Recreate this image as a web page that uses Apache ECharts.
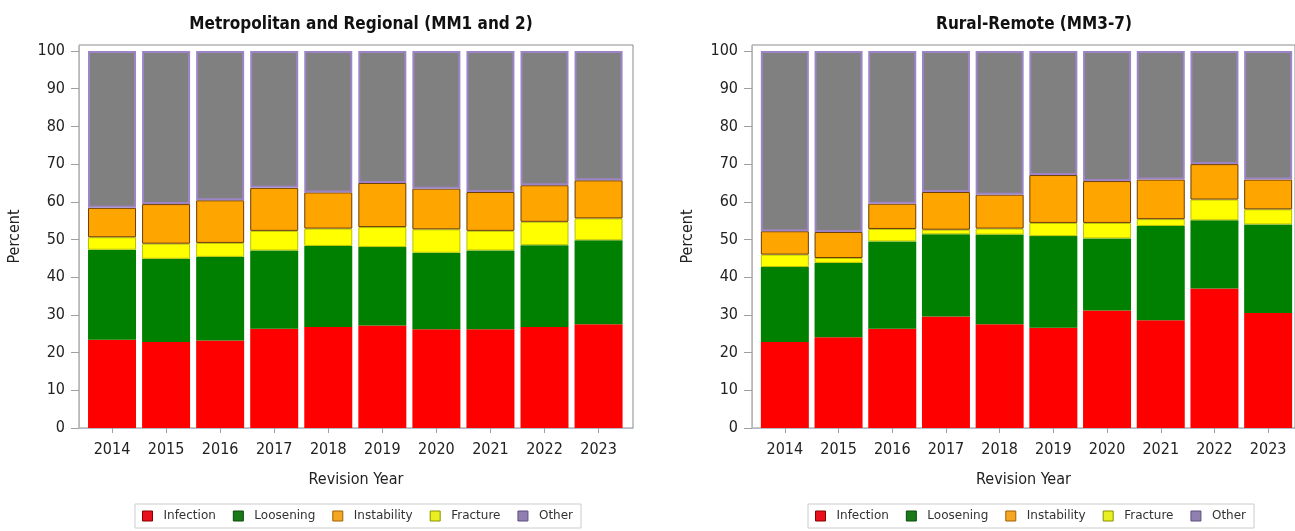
<!DOCTYPE html>
<html>
<head>
<meta charset="utf-8">
<script src="https://cdn.jsdelivr.net/npm/echarts@6/dist/echarts.min.js"></script>
<style>
html,body{margin:0;padding:0;background:#fff;}
#chart{width:1295px;height:531px;}
</style>
</head>
<body>
<div id="chart"></div>
<script>
// ---- data ----
const years = ['2014', '2015', '2016', '2017', '2018', '2019', '2020', '2021', '2022', '2023'];
const yTicks = [0, 10, 20, 30, 40, 50, 60, 70, 80, 90, 100];
const seriesNames = ['Infection', 'Loosening', 'Fracture', 'Instability', 'Other'];
const legendOrder = ['Infection', 'Loosening', 'Instability', 'Fracture', 'Other'];

const metroTitle = 'Metropolitan and Regional (MM1 and 2)';
const metroInfection   = [23.4, 22.8, 23.2, 26.3, 26.8, 27.2, 26.2, 26.2, 26.8, 27.5];
const metroLoosening   = [23.9, 22.1, 22.2, 20.8, 21.5, 20.8, 20.3, 20.9, 21.7, 22.3];
const metroFracture    = [3.3, 4.0, 3.7, 5.2, 4.6, 5.3, 6.2, 5.2, 6.2, 5.8];
const metroInstability = [7.8, 10.5, 11.3, 11.4, 9.6, 11.7, 10.8, 10.3, 9.7, 10.1];
const metroOther       = [41.6, 40.6, 39.6, 36.3, 37.5, 35.0, 36.5, 37.4, 35.6, 34.3];

const ruralTitle = 'Rural-Remote (MM3-7)';
const ruralInfection   = [22.8, 24.1, 26.3, 29.6, 27.5, 26.6, 31.2, 28.6, 37.0, 30.5];
const ruralLoosening   = [19.9, 19.7, 23.2, 21.8, 23.8, 24.3, 19.1, 25.0, 18.1, 23.5];
const ruralFracture    = [3.3, 1.3, 3.3, 1.2, 1.6, 3.5, 4.1, 1.8, 5.5, 4.0];
const ruralInstability = [6.2, 6.9, 6.7, 10.0, 9.0, 12.7, 11.1, 10.5, 9.4, 7.9];
const ruralOther       = [47.8, 48.0, 40.5, 37.4, 38.1, 32.9, 34.5, 34.1, 30.0, 34.1];

// ---- styles ----
const narrow = "'Liberation Sans Narrow', 'DejaVu Sans Condensed', 'Arial Narrow', sans-serif";
const styles = {
  Infection:   { color: '#ff0000' },
  Loosening:   { color: '#008000' },
  Fracture:    { color: '#ffff00', borderColor: '#b8c400', borderWidth: 1 },
  Instability: { color: '#ffa500', borderColor: '#6e3c00', borderWidth: 1 },
  Other:       { color: '#808080', borderColor: '#9d84c6', borderWidth: 2 }
};
const legendIconStyles = {
  Infection:   { color: '#e8101c', borderColor: '#8a0000', borderWidth: 1 },
  Loosening:   { color: '#1a7a1a', borderColor: '#0a4a0a', borderWidth: 1 },
  Instability: { color: '#f5a623', borderColor: '#a06000', borderWidth: 1 },
  Fracture:    { color: '#e8f020', borderColor: '#8a9000', borderWidth: 1 },
  Other:       { color: '#8f80b0', borderColor: '#5e4f80', borderWidth: 1 }
};

const panels = [
  { title: metroTitle, left: 79, data: [metroInfection, metroLoosening, metroFracture, metroInstability, metroOther], legendLeft: 135 },
  { title: ruralTitle, left: 752, data: [ruralInfection, ruralLoosening, ruralFracture, ruralInstability, ruralOther], legendLeft: 808 }
];
const frameW = 554, frameTop = 45, frameH = 383;
const innerOffset = 6, innerW = 540.6;
const yMax = 101.6;

const option = {
  animation: false,
  backgroundColor: '#ffffff',
  title: [], grid: [], xAxis: [], yAxis: [], series: [], legend: []
};

panels.forEach((p, gi) => {
  const frameIdx = 2 * gi, innerIdx = 2 * gi + 1;
  option.title.push({
    text: p.title, left: p.left + frameW / 2, top: 11, textAlign: 'center',
    textStyle: { fontFamily: narrow, fontSize: 17, fontWeight: 'bold', color: '#111' }
  });
  // frame grid (axes lines, y labels, names)
  option.grid.push({
    left: p.left, top: frameTop, width: frameW, height: frameH,
    show: true, borderColor: '#8c8c8c', borderWidth: 1, backgroundColor: '#ffffff'
  });
  // inner grid (bars + category labels)
  option.grid.push({
    left: p.left + innerOffset, top: frameTop, width: innerW, height: frameH, show: false
  });
  option.xAxis.push({
    type: 'value', gridIndex: frameIdx, min: 0, max: 1,
    name: 'Revision Year', nameLocation: 'middle', nameGap: 44,
    nameTextStyle: { fontFamily: narrow, fontSize: 16, color: '#222' },
    axisLine: { show: true, onZero: false, lineStyle: { color: '#b4bccb', width: 1 } },
    axisTick: { show: false }, axisLabel: { show: false }, splitLine: { show: false }
  });
  option.yAxis.push({
    type: 'value', gridIndex: frameIdx, min: 0, max: yMax,
    name: 'Percent', nameLocation: 'middle', nameGap: 56, nameRotate: 90,
    nameTextStyle: { fontFamily: narrow, fontSize: 16, color: '#222' },
    axisLine: { show: true, lineStyle: { color: '#b8b8b8', width: 1 } },
    axisTick: { show: true, length: 8, customValues: yTicks, lineStyle: { color: '#a0a0a0' } },
    axisLabel: { customValues: yTicks, margin: 14, fontFamily: narrow, fontSize: 16, color: '#222' },
    splitLine: { show: false }
  });
  option.xAxis.push({
    type: 'category', gridIndex: innerIdx, data: years,
    axisLine: { show: false },
    axisTick: { show: true, alignWithLabel: true, length: 5, lineStyle: { color: '#a0a0a0' } },
    axisLabel: { margin: 14, fontFamily: narrow, fontSize: 16, color: '#222' },
    splitLine: { show: false }
  });
  option.yAxis.push({
    type: 'value', gridIndex: innerIdx, min: 0, max: yMax, show: false, splitLine: { show: false }
  });
  seriesNames.forEach((name, si) => {
    option.series.push({
      name: name, type: 'bar', stack: 'panel' + gi,
      xAxisIndex: innerIdx, yAxisIndex: innerIdx, barWidth: 48,
      itemStyle: styles[name],
      emphasis: { disabled: true },
      data: p.data[si]
    });
  });
  option.legend.push({
    left: p.legendLeft, top: 504,
    orient: 'horizontal',
    itemWidth: 10, itemHeight: 10, itemGap: 17,
    padding: [6, 8, 6, 7],
    borderColor: '#cccccc', borderWidth: 1,
    selectedMode: false,
    icon: 'rect',
    textStyle: { fontFamily: "'DejaVu Sans', sans-serif", fontSize: 12, color: '#333', padding: [0, 0, 0, 6] },
    data: legendOrder.map(n => ({ name: n, itemStyle: legendIconStyles[n] }))
  });
});

const chart = echarts.init(document.getElementById('chart'), null, { renderer: 'canvas' });
chart.setOption(option);
</script>
</body>
</html>
